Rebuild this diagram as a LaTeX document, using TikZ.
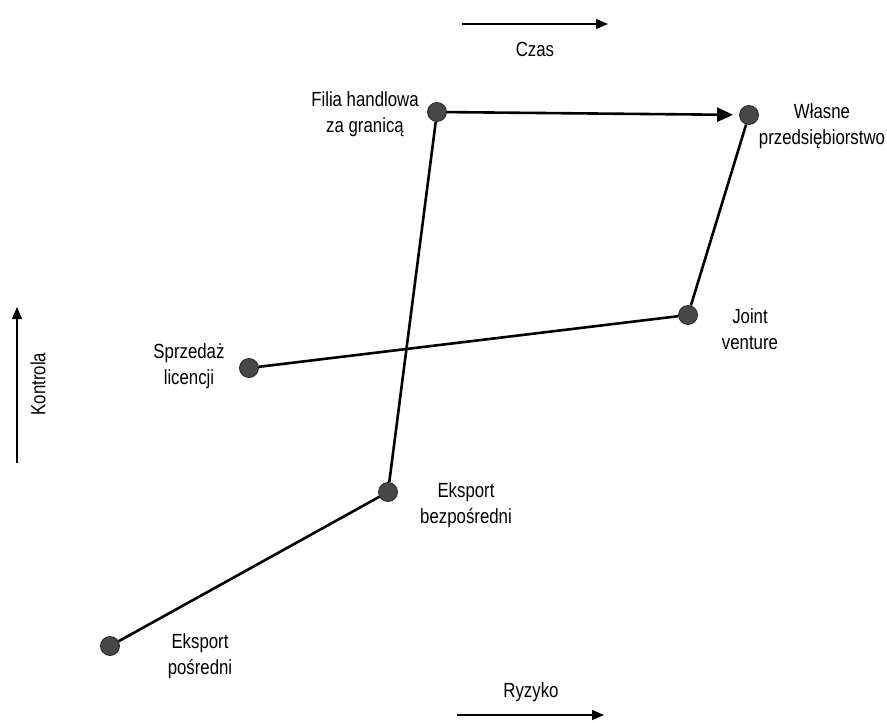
\documentclass[tikz,border=0pt]{standalone}
\usepackage{fontspec}
\setmainfont{Liberation Sans}[FakeStretch=0.82]
\usetikzlibrary{arrows.meta}
\tikzstyle{dot}=[circle, fill=black!72, draw=black!85, thick,
    inner sep=0pt, minimum size=19pt]
\tikzstyle{lbl}=[align=center, inner sep=0pt,
    font=\fontsize{20.5}{26}\selectfont]
\tikzstyle{conn}=[line width=2.6pt]
\tikzstyle{axis}=[line width=1.5pt, -{Triangle[length=12pt, width=10pt]}]

\begin{document}
\begin{tikzpicture}[x=1pt, y=-1pt]
    \useasboundingbox (0,0) rectangle (887,723);
    \node (ep) [dot] at (110,646) {};
    \node (eb) [dot] at (388,492) {};
    \node (sl) [dot] at (249,368) {};
    \node (jv) [dot] at (688,315) {};
    \node (fh) [dot] at (437,112) {};
    \node (wp) [dot] at (749,115) {};
    \path (ep)+(90,10) node (epl) [lbl] {Eksport\\pośredni};
    \path (eb)+(78,13) node (ebl) [lbl] {Eksport\\bezpośredni};
    \path (sl)+(-60,-2) node (sll) [lbl] {Sprzedaż\\licencji};
    \path (jv)+(62,14) node (jvl) [lbl] {Joint\\venture};
    \path (fh)+(-72,2) node (fhl) [lbl] {Filia handlowa\\za granicą};
    \path (wp)+(73,11) node (wpl) [lbl] {Własne\\przedsiębiorstwo};
    \draw[conn] (ep) -- (eb);
    \draw[conn] (eb) -- (fh);
    \draw[conn] (sl) -- (jv);
    \draw[conn] (jv) -- (wp);
    \draw[conn, -{Triangle[length=16pt, width=14pt]}, shorten >=6pt] (fh) -- (wp);
    % axes
    \coordinate (c0) at (462,24);
    \coordinate (c1) at (608,24);
    \draw[axis] (c0) -- (c1);
    \node (czas) [lbl] at (535,49) {Czas};
    \coordinate (k0) at (17,463);
    \coordinate (k1) at (17,307);
    \draw[axis, line width=1.2pt] (k0) -- (k1);
    \node (kontrola) [lbl, rotate=90] at (38,384) {Kontrola};
    \coordinate (r0) at (457,715);
    \coordinate (r1) at (604,715);
    \draw[axis] (r0) -- (r1);
    \node (ryzyko) [lbl] at (531,692) {Ryzyko};
\end{tikzpicture}
\end{document}
